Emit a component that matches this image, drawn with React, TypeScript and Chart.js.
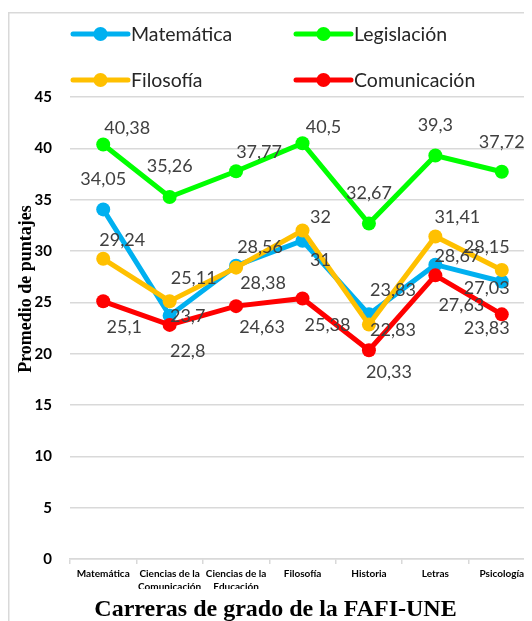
import { useEffect, useRef } from "react";
import { Chart, registerables } from "chart.js";

Chart.register(...registerables);

// ---- data ----
const categories: string[][] = [
  ["Matemática"],
  ["Ciencias de la", "Comunicación"],
  ["Ciencias de la", "Educación"],
  ["Filosofía"],
  ["Historia"],
  ["Letras"],
  ["Psicología"],
];
const seriesNames = ["Matemática", "Legislación", "Filosofía", "Comunicación"];
const matematica = [34.05, 23.7, 28.56, 31, 23.83, 28.67, 27.03];
const legislacion = [40.38, 35.26, 37.77, 40.5, 32.67, 39.3, 37.72];
const filosofia = [29.24, 25.11, 28.38, 32, 22.83, 31.41, 28.15];
const comunicacion = [25.1, 22.8, 24.63, 25.38, 20.33, 27.63, 23.83];
const yMin = 0;
const yMax = 45;
const yStep = 5;
const yAxisTitle = "Promedio de puntajes";
const xAxisTitle = "Carreras de grado de la FAFI-UNE";

// ---- styles ----
const colors = ["#00B0F0", "#00FF00", "#FFC000", "#FF0000"];
const drawOrder = [4, 3, 2, 1];
// data label offsets (dx, dy) from each point, per series
const labelOffsets: number[][][] = [
  [[0, -30], [18, 1], [24, -19], [18, 19], [24, -24], [22, -8], [-15, 7]],
  [[24, -16], [0, -31], [23, -19], [21, -16], [0, -30], [0, -30], [0, -30]],
  [[19, -19], [24, -23], [27, 16], [18, -13], [24, 6], [22, -19], [-15, -23]],
  [[21, 26], [18, 26], [26, 21], [25, 27], [20, 22], [26, 30], [-15, 14]],
];
const legendSlots = [
  { x: 65, y: 26 },
  { x: 288, y: 26 },
  { x: 65, y: 72 },
  { x: 288, y: 72 },
];
const SANS = "Lato, 'Open Sans', sans-serif";
const SERIF = "'Liberation Serif', 'DejaVu Serif', serif";

const decorPlugin = {
  id: "decor",
  beforeDraw(chart: any) {
    const ctx = chart.ctx;
    ctx.save();
    ctx.strokeStyle = "#d9d9d9";
    ctx.lineWidth = 1.5;
    ctx.beginPath();
    ctx.moveTo(0.75, chart.height);
    ctx.lineTo(0.75, 4.75);
    ctx.lineTo(chart.width, 4.75);
    ctx.stroke();
    ctx.restore();
  },
  afterDatasetsDraw(chart: any) {
    const ctx = chart.ctx;
    ctx.save();
    ctx.font = `18px ${SANS}`;
    ctx.fillStyle = "#404040";
    ctx.textAlign = "center";
    ctx.textBaseline = "middle";
    chart.data.datasets.forEach((ds: any, di: number) => {
      const meta = chart.getDatasetMeta(di);
      meta.data.forEach((pt: any, i: number) => {
        const v = ds.data[i];
        const [dx, dy] = labelOffsets[di][i];
        ctx.fillText(String(v).replace(".", ","), pt.x + dx, pt.y + dy);
      });
    });
    ctx.restore();
  },
  afterDraw(chart: any) {
    const ctx = chart.ctx;
    const area = chart.chartArea;
    ctx.save();
    // legend
    chart.data.datasets.forEach((ds: any, di: number) => {
      const s = legendSlots[di];
      ctx.strokeStyle = ds.borderColor;
      ctx.lineWidth = 5;
      ctx.lineCap = "round";
      ctx.beginPath();
      ctx.moveTo(s.x, s.y);
      ctx.lineTo(s.x + 55, s.y);
      ctx.stroke();
      ctx.fillStyle = ds.borderColor;
      ctx.beginPath();
      ctx.arc(s.x + 27.5, s.y, 7, 0, Math.PI * 2);
      ctx.fill();
      ctx.fillStyle = "#262626";
      ctx.font = `19.5px ${SANS}`;
      ctx.textAlign = "left";
      ctx.textBaseline = "middle";
      ctx.fillText(ds.label, s.x + 58, s.y + 1);
    });
    // y axis title
    ctx.save();
    ctx.translate(18, (area.top + area.bottom) / 2 - 39);
    ctx.rotate(-Math.PI / 2);
    ctx.font = `bold 18px ${SERIF}`;
    ctx.fillStyle = "#000";
    ctx.textAlign = "center";
    ctx.textBaseline = "middle";
    ctx.fillText(yAxisTitle, 0, 0);
    ctx.restore();
    // x axis title
    ctx.font = `bold 24px ${SERIF}`;
    ctx.fillStyle = "#000";
    ctx.textAlign = "center";
    ctx.textBaseline = "middle";
    ctx.fillText(xAxisTitle, (area.left + area.right) / 2 - 27, area.bottom + 51);
    ctx.restore();
  },
};

export default function App() {
  const ref = useRef<HTMLCanvasElement | null>(null);
  useEffect(() => {
    if (!ref.current) return;
    const series = [matematica, legislacion, filosofia, comunicacion];
    const chart = new Chart(ref.current, {
      type: "line",
      data: {
        labels: categories,
        datasets: series.map((d, i) => ({
          label: seriesNames[i],
          data: d,
          borderColor: colors[i],
          backgroundColor: colors[i],
          pointBackgroundColor: colors[i],
          pointBorderWidth: 0,
          pointRadius: 7,
          borderWidth: 5,
          tension: 0,
          order: drawOrder[i],
        })),
      },
      options: {
        responsive: false,
        animation: false,
        events: [],
        layout: { padding: { top: 89, left: 0, right: 18, bottom: 32 } },
        plugins: { legend: { display: false }, tooltip: { enabled: false } },
        scales: {
          x: {
            offset: true,
            grid: {
              offset: true,
              drawOnChartArea: false,
              drawTicks: true,
              tickLength: 5,
              color: "#d9d9d9",
              lineWidth: 1.5,
            },
            border: { display: true, color: "#d9d9d9", width: 1.5 },
            ticks: {
              autoSkip: false,
              maxRotation: 0,
              padding: 3,
              color: "#000",
              font: { family: SANS, size: 10, weight: "bold", lineHeight: 1.3 },
            },
            afterFit: (s: any) => {
              s.height = 30;
            },
          },
          y: {
            min: yMin,
            max: yMax,
            ticks: {
              stepSize: yStep,
              padding: 18,
              color: "#000",
              font: { family: SANS, size: 15, weight: "bold" },
            },
            grid: { color: "#d9d9d9", lineWidth: 1.5, drawTicks: false },
            border: { display: false },
            afterFit: (s: any) => {
              s.width = 62;
            },
          },
        },
      },
      plugins: [decorPlugin],
    });
    return () => chart.destroy();
  }, []);
  return (
    <div style={{ width: 524, height: 613, overflow: "hidden", position: "relative" }}>
      <canvas ref={ref} width={545} height={613} style={{ display: "block" }} />
    </div>
  );
}
